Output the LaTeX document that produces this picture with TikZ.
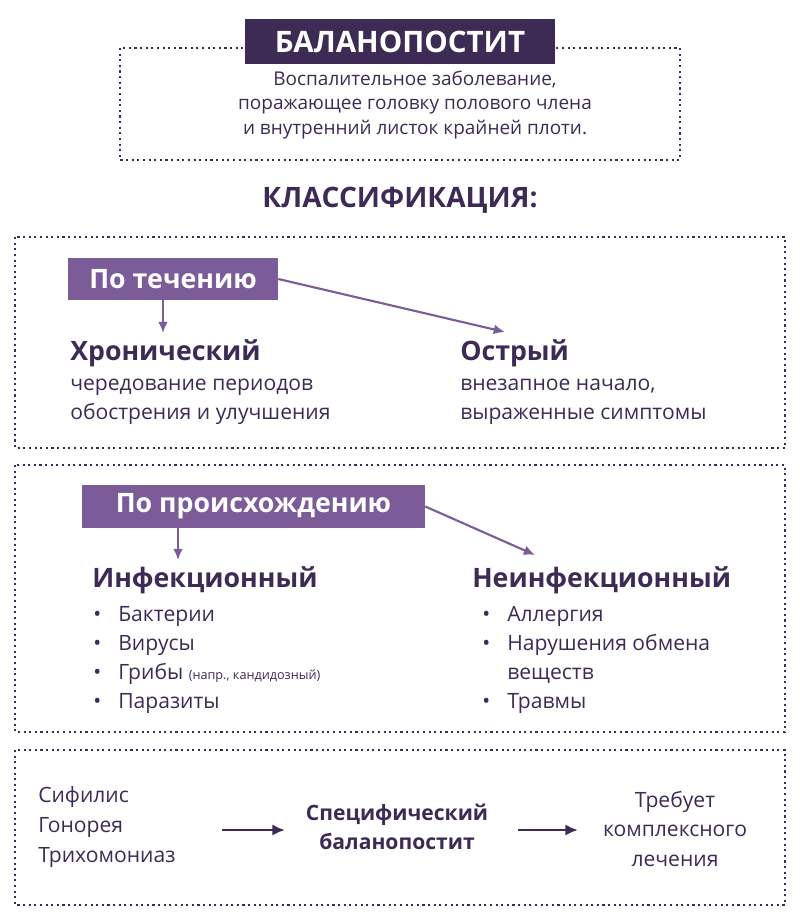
\documentclass[tikz,border=0pt]{standalone}
\usepackage{fontspec}
\setmainfont{Open Sans}
\usetikzlibrary{arrows.meta}
\definecolor{darkpurple}{HTML}{3D2A55}
\definecolor{midpurple}{HTML}{7B5C99}
\tikzset{
  frame/.style={draw=darkpurple, line width=1.4pt, dash pattern=on 1.5pt off 2.5pt},
  tag/.style={fill=midpurple, text=white, font=\bfseries\fontsize{19}{22}\selectfont, inner sep=0pt},
  head/.style={text=darkpurple, font=\bfseries\fontsize{19}{22}\selectfont, anchor=west, inner sep=0pt},
  body/.style={text=darkpurple, font=\fontsize{15}{21}\selectfont, anchor=west, inner sep=0pt},
  link/.style={-{Latex[length=8pt,width=7pt]}, midpurple, line width=1.5pt},
  darklink/.style={-{Latex[length=9pt,width=8pt]}, darkpurple, line width=1.8pt}
}
\begin{document}
\begin{tikzpicture}[x=0.025cm, y=-0.025cm]
  \useasboundingbox (0,0) rectangle (800,919);
  % title block
  \draw[frame] (120,48) rectangle (680,160);
  \node[fill=darkpurple, text=white, font=\bfseries\fontsize{21}{24}\selectfont,
        minimum width=310*0.025cm, minimum height=45*0.025cm, inner sep=0pt] (title) at (400,42) {БАЛАНОПОСТИТ};
  \node[text=darkpurple, font=\fontsize{13.5}{17.5}\selectfont, align=center] (def) at (415,105)
    {Воспалительное заболевание,\\поражающее головку полового члена\\и внутренний листок крайней плоти.};
  \node[text=darkpurple, font=\bfseries\fontsize{20}{24}\selectfont] (class) at (400,200) {КЛАССИФИКАЦИЯ:};

  % by course
  \draw[frame] (15,237) rectangle (785,448);
  \node[tag, minimum width=210*0.025cm, minimum height=42*0.025cm] (course) at (173,279) {По течению};
  \node[head] (chronic) at (70,353) {Хронический};
  \node[body, align=left] (chronictxt) at (70,402) {чередование периодов\\обострения и улучшения};
  \node[head] (acute) at (460,353) {Острый};
  \node[body, align=left] (acutetxt) at (460,402) {внезапное начало,\\выраженные симптомы};
  \coordinate (c1) at (163,333);
  \coordinate (c2) at (505,332);
  \draw[link] (course.south -| c1) -- (c1);
  \draw[link] (course.east) -- (c2);

  % by origin
  \draw[frame] (15,465) rectangle (785,732);
  \node[tag, minimum width=343*0.025cm, minimum height=43*0.025cm] (origin) at (253.5,506.5) {По происхождению};
  \node[head] (infect) at (92,580) {Инфекционный};
  \node[head] (noninfect) at (472,580) {Неинфекционный};
  \foreach \t [count=\i] in {Бактерии, Вирусы, {Грибы {\fontsize{9}{10}\selectfont (напр., кандидозный)}}, Паразиты} {
    \node[body] (inf\i) at (118,{616+29.2*(\i-1)}) {\t};
    \node[body] (infb\i) at (93,{616+29.2*(\i-1)}) {•};
  }
  \node[body] (non1) at (507,616) {Аллергия};
  \node[body] (nonb1) at (482,616) {•};
  \node[body, align=left] (non2) at (507,659) {Нарушения обмена\\веществ};
  \node[body] (nonb2) at (482,645) {•};
  \node[body] (non3) at (507,703) {Травмы};
  \node[body] (nonb3) at (482,703) {•};
  \coordinate (o1) at (178,560);
  \coordinate (o2) at (535,555);
  \draw[link] (origin.south -| o1) -- (o1);
  \draw[link] (origin.east) -- (o2);

  % specific
  \draw[frame] (15,750) rectangle (785,905);
  \node[body, align=left] (causes) at (38,827) {Сифилис\\Гонорея\\Трихомониаз};
  \node[text=darkpurple, font=\bfseries\fontsize{15}{21}\selectfont, align=center] (spec) at (397,827)
    {Специфический\\баланопостит};
  \node[text=darkpurple, font=\fontsize{15}{21}\selectfont, align=center] (treat) at (675,829)
    {Требует\\комплексного\\лечения};
  \draw[darklink] (222,830) -- (285,830);
  \draw[darklink] (518,830) -- (578,830);
\end{tikzpicture}
\end{document}
